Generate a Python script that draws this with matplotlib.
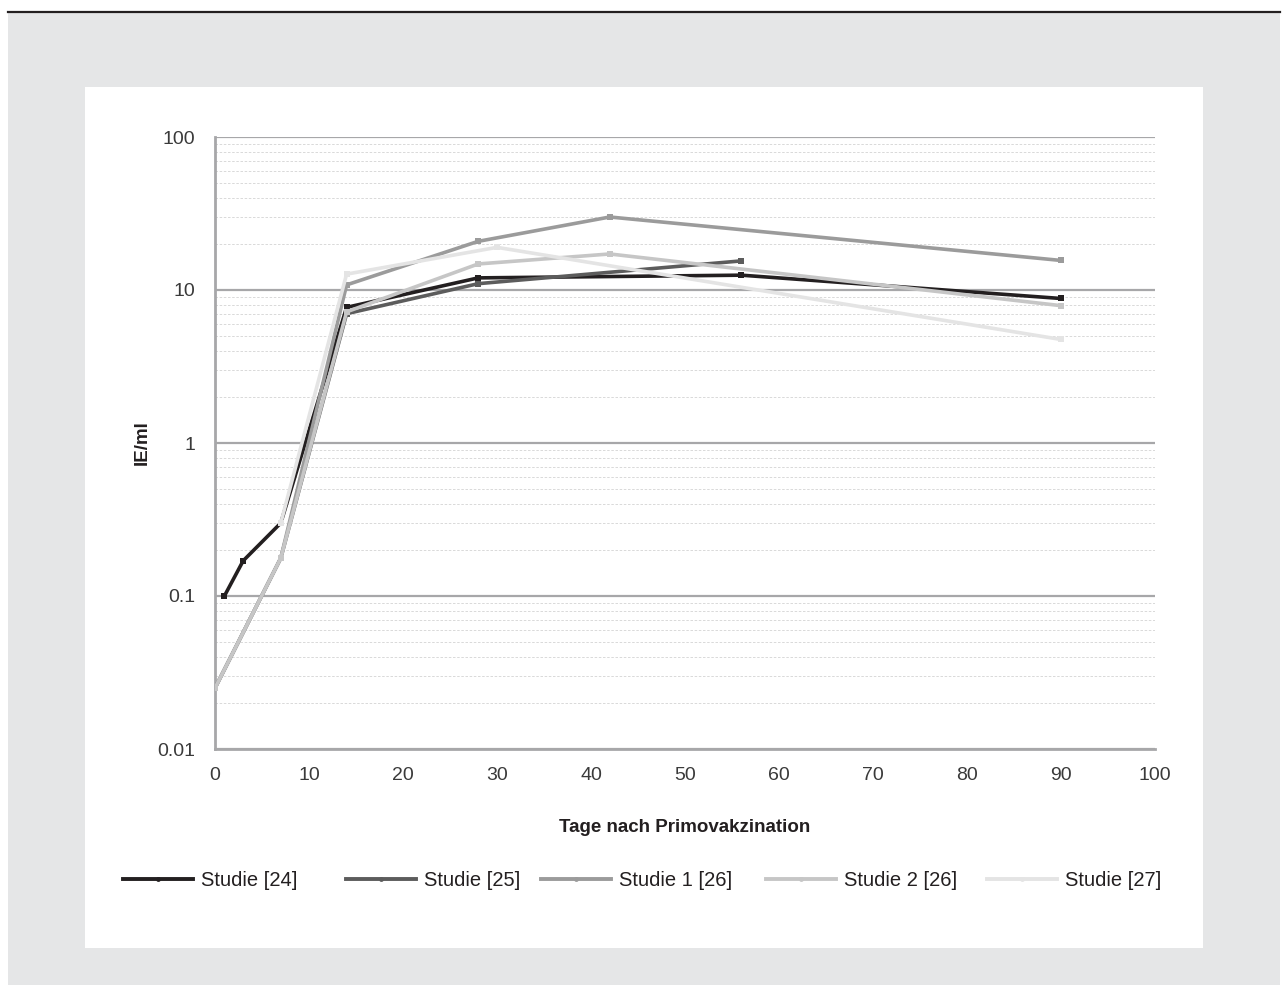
import matplotlib
matplotlib.use("Agg")
import matplotlib.pyplot as plt
import matplotlib.patches as mpatches
from matplotlib.lines import Line2D
from matplotlib.ticker import LogLocator, FixedLocator, FixedFormatter, NullFormatter

plt.rcParams['font.family'] = ['Liberation Sans', 'DejaVu Sans']

# ---- data ----
series_names = ["Studie [24]", "Studie [25]", "Studie 1 [26]", "Studie 2 [26]", "Studie [27]"]
colors = ["#231f20", "#5c5c5c", "#9b9b9b", "#c6c6c6", "#e4e4e4"]

days_24 = [1, 3, 7, 14, 28, 56, 90]
vals_24 = [0.1, 0.17, 0.30, 7.7, 12.0, 12.5, 8.8]

days_25 = [0, 7, 14, 28, 56]
vals_25 = [0.025, 0.177, 7.0, 11.0, 15.5]

days_26a = [0, 7, 14, 28, 42, 90]
vals_26a = [0.025, 0.177, 10.8, 20.8, 30.0, 15.6]

days_26b = [0, 7, 14, 28, 42, 90]
vals_26b = [0.025, 0.177, 7.2, 14.8, 17.2, 7.9]

days_27 = [7, 14, 30, 90]
vals_27 = [0.30, 12.7, 19.0, 4.75]

all_days = [days_24, days_25, days_26a, days_26b, days_27]
all_vals = [vals_24, vals_25, vals_26a, vals_26b, vals_27]

x_ticks = [0, 10, 20, 30, 40, 50, 60, 70, 80, 90, 100]
y_ticks = [0.01, 0.1, 1, 10, 100]
y_tick_labels = ["0.01", "0.1", "1", "10", "100"]

# ---- figure ----
W, H = 1285, 990
fig = plt.figure(figsize=(W / 100, H / 100), dpi=100)
fig.patch.set_facecolor("white")

# gray background and top rule
fig.patches.append(mpatches.Rectangle((8 / W, 1 - 985 / H), (1280 - 8) / W, (985 - 13) / H,
                                      transform=fig.transFigure, facecolor="#e5e6e7",
                                      edgecolor="none", zorder=-10))
fig.patches.append(mpatches.Rectangle((85 / W, 1 - 948 / H), (1203 - 85) / W, (948 - 87) / H,
                                      transform=fig.transFigure, facecolor="white",
                                      edgecolor="none", zorder=-9))
fig.lines.append(Line2D([8 / W, 1280 / W], [1 - 11.5 / H, 1 - 11.5 / H], transform=fig.transFigure,
                        color="#231f20", lw=1.6, zorder=-8))

ax_l, ax_r, ax_t, ax_b = 215, 1155, 137, 749
ax = fig.add_axes([ax_l / W, 1 - ax_b / H, (ax_r - ax_l) / W, (ax_b - ax_t) / H])
ax.set_facecolor("none")

for d, v, c, n in zip(all_days, all_vals, colors, series_names):
    ax.plot(d, v, color=c, lw=2.6, marker="s", markersize=5, markeredgewidth=0,
            label=n, zorder=3, solid_joinstyle="miter")

ax.set_yscale("log")
ax.set_xlim(0, 100)
ax.set_ylim(0.01, 100)

ax.yaxis.set_major_locator(FixedLocator(y_ticks))
ax.yaxis.set_major_formatter(FixedFormatter(y_tick_labels))
ax.yaxis.set_minor_locator(LogLocator(base=10, subs=range(2, 10)))
ax.yaxis.set_minor_formatter(NullFormatter())
ax.set_xticks(x_ticks)
ax.set_xticklabels([str(t) for t in x_ticks])

ax.grid(True, which="major", axis="y", color="#a7a7a9", lw=1.6, zorder=1)
ax.grid(True, which="minor", axis="y", color="#d3d3d3", lw=0.6, ls=(0, (3, 2)), zorder=1)
ax.grid(False, axis="x")

for s in ["top", "right"]:
    ax.spines[s].set_visible(False)
for s in ["left", "bottom"]:
    ax.spines[s].set_color("#a7a7a9")
    ax.spines[s].set_linewidth(2.0)

ax.tick_params(axis="both", which="both", length=0, labelsize=14, labelcolor="#3a3a3a")
ax.tick_params(axis="y", pad=14)
ax.tick_params(axis="x", pad=13)

ax.set_ylabel("IE/ml", fontsize=13.5, fontweight="bold", color="#231f20", labelpad=5)
ax.set_xlabel("Tage nach Primovakzination", fontsize=13.5, fontweight="bold", color="#231f20",
              labelpad=25)

# legend entries placed individually (as in the reference layout)
legend_x = [123, 346, 541, 766, 987]
for lx, c, n in zip(legend_x, colors, series_names):
    h = Line2D([0], [0], color=c, lw=2.8, marker="o", markersize=3.5, markeredgewidth=0)
    leg = fig.legend([h], [n], loc="center left", bbox_to_anchor=(lx / W, 1 - 881 / H),
                     frameon=False, fontsize=14.5, handlelength=3.5, handletextpad=0.35,
                     borderpad=0, borderaxespad=0, labelcolor="#231f20")

fig.savefig("out.png", dpi=100, facecolor=fig.get_facecolor())
